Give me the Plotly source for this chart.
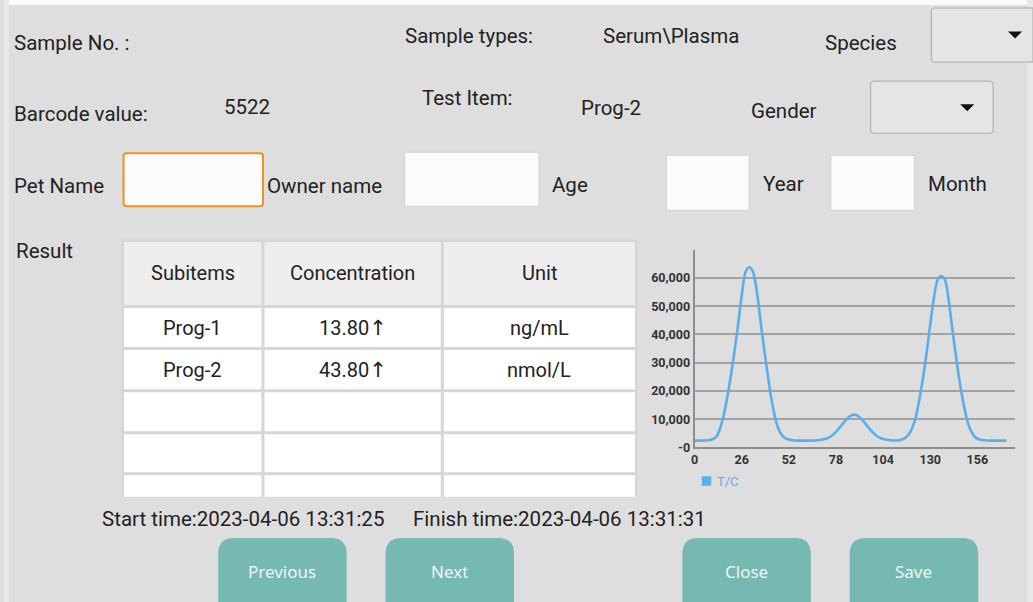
import plotly.graph_objects as go

# ---------------- data ----------------
x_positions = [0, 2, 4, 6, 8, 10, 12, 14, 16, 18, 20, 22, 24, 26, 28, 30, 32, 34, 36, 38,
               40, 42, 44, 46, 48, 50, 52, 54, 56, 58, 60, 62, 64, 66, 68, 70, 72, 74, 76, 78,
               80, 82, 84, 86, 88, 90, 92, 94, 96, 98, 100, 102, 104, 106, 108, 110, 112, 114, 116, 118,
               120, 122, 124, 126, 128, 130, 132, 134, 136, 138, 140, 142, 144, 146, 148, 150, 152, 154, 156, 158,
               160, 162, 164, 166, 168, 170, 172]
tc_values = [2400, 2400, 2400, 2450, 2600, 2900, 3800, 6600, 11300, 17700, 25400, 34100, 43500, 53900, 61900, 63800, 62500, 56700, 46700, 36400,
             27300, 18600, 11700, 7000, 4500, 3300, 2800, 2550, 2450, 2400, 2400, 2400, 2400, 2450, 2520, 2700, 2970, 3500, 4320, 5500,
             6990, 8600, 10130, 11200, 11600, 11200, 10130, 8600, 6990, 5500, 4320, 3500, 2970, 2700, 2520, 2450, 2450, 2700, 3300, 4500,
             6800, 10600, 17100, 24600, 33500, 43500, 52900, 59200, 60600, 59600, 52900, 42800, 33200, 24100, 16700, 10600, 6500, 4200, 3100, 2700,
             2550, 2450, 2400, 2400, 2400, 2400, 2400]
x_tick_vals = [0, 26, 52, 78, 104, 130, 156]
y_tick_vals = [0, 10000, 20000, 30000, 40000, 50000, 60000]
y_tick_text = ["-0", "10,000", "20,000", "30,000", "40,000", "50,000", "60,000"]
series_name = "T/C"

table_header = ["Subitems", "Concentration", "Unit"]
subitems = ["Prog-1", "Prog-2"]
concentrations = ["13.80", "43.80"]
units = ["ng/mL", "nmol/L"]
high_flag = "\u2191"

button_labels = ["Previous", "Next", "Close", "Save"]
start_time = "Start time:2023-04-06 13:31:25"
finish_time = "Finish time:2023-04-06 13:31:31"

# ---------------- helpers ----------------
W, H = 1033, 602          # layout grid (reference pixels)
FIG_H = 610               # rendered figure height
BG = "#dedede"
TXT = "#222222"
FONT = "Roboto"


def X(px):
    return px / W


def Y(py):
    return 1 - py / H


shapes = []
annotations = []


def rect(x0, y0, x1, y1, fill, lc=None, lw=0):
    shapes.append(dict(type="rect", xref="paper", yref="paper", layer="below",
                       x0=X(x0), x1=X(x1), y0=Y(y1), y1=Y(y0), fillcolor=fill,
                       line=dict(color=lc or fill, width=lw)))


def rrect(x0, y0, x1, y1, r, fill, lc=None, lw=0, round_bottom=True, round_right=True):
    def p(a, b):
        return f"{X(a):.6f},{Y(b):.6f}"
    rb = r if round_bottom else 0
    rr = r if round_right else 0
    rbr = min(rb, rr)
    path = f"M {p(x0 + r, y0)} L {p(x1 - rr, y0)} "
    if rr:
        path += f"Q {p(x1, y0)} {p(x1, y0 + rr)} "
    path += f"L {p(x1, y1 - rbr)} "
    if rbr:
        path += f"Q {p(x1, y1)} {p(x1 - rbr, y1)} "
    path += f"L {p(x0 + rb, y1)} "
    if rb:
        path += f"Q {p(x0, y1)} {p(x0, y1 - rb)} "
    path += f"L {p(x0, y0 + r)} Q {p(x0, y0)} {p(x0 + r, y0)} Z"
    shapes.append(dict(type="path", xref="paper", yref="paper", layer="below", path=path,
                       fillcolor=fill, line=dict(color=lc or fill, width=lw)))


def tri(cx, cy, w, h, color):
    path = (f"M {X(cx - w / 2):.6f},{Y(cy - h / 2):.6f} L {X(cx + w / 2):.6f},{Y(cy - h / 2):.6f} "
            f"L {X(cx):.6f},{Y(cy + h / 2):.6f} Z")
    shapes.append(dict(type="path", xref="paper", yref="paper", layer="above", path=path,
                       fillcolor=color, line=dict(color=color, width=0)))


def text(px, py, s, size=20.5, color=TXT, anchor="left", family=FONT, weight=None):
    f = dict(family=family, size=size, color=color)
    if weight:
        f["weight"] = weight
    if anchor == "left":
        px -= 3
    annotations.append(dict(xref="paper", yref="paper", x=X(px), y=Y(py), text=s,
                            showarrow=False, xanchor=anchor, yanchor="middle", font=f))


# ---------------- page frame ----------------
rect(0, 0, W, 5, "#fafafa")
rect(0, 0, 5, H, "#e8e8e8")
rect(1027, 0, W, H, "#e8e8e8")

# ---------------- labels ----------------
text(11, 43, "Sample No. :")
text(404, 36, "Sample types:")
text(602, 36, "Serum\\Plasma")
text(825, 43, "Species")
text(11, 114, "Barcode value:")
text(222, 107, "5522")
text(421, 98, "Test Item:")
text(580, 108, "Prog-2")
text(751, 111, "Gender")
text(11, 186, "Pet Name")
text(265, 186, "Owner name")
text(551, 185, "Age")
text(763, 184, "Year")
text(929, 184, "Month")
text(13, 251, "Result")

# dropdowns
rrect(931, 8, 1033, 62, 3, "#e5e5e5", "#a9a9a9", 1, round_right=False)
tri(1015, 35, 14, 7, "#111111")
rrect(870, 81, 993, 133, 3, "#e5e5e5", "#a9a9a9", 1)
tri(967, 107.5, 14, 7, "#111111")

# input boxes
rrect(120, 153, 260, 206, 3, "#fbfbfb", "#f0921f", 2)
rect(402, 152, 537, 206, "#fbfbfb", "#d2d2d2", 1)
rect(665, 155, 748, 210, "#fbfbfb", "#d2d2d2", 1)
rect(830, 155, 914, 210, "#fbfbfb", "#d2d2d2", 1)

# ---------------- table ----------------
cols = [119, 260, 440, 635]
rows = [240, 306, 348, 390, 432, 473, 496]
rect(118, 239, 636, 496, "#d6d6d6")
for ri in range(len(rows) - 1):
    for ci in range(len(cols) - 1):
        fill = "#eeeeee" if ri == 0 else "#ffffff"
        y_end = rows[ri + 1] - 1.5 if ri < len(rows) - 2 else rows[ri + 1]
        rect(cols[ci] + 1.5, rows[ri] + 1.5, cols[ci + 1] - 1.5, y_end, fill)
col_centers = [(cols[i] + cols[i + 1]) / 2 for i in range(3)]
for ci, h in enumerate(table_header):
    text(col_centers[ci], 273, h, size=20, anchor="center")
for ri in range(len(subitems)):
    cy = (rows[ri + 1] + rows[ri + 2]) / 2
    text(col_centers[0], cy, subitems[ri], size=20, anchor="center")
    conc = concentrations[ri] + '<span style="font-family:DejaVu Sans;font-size:21px">' + high_flag + '</span>'
    text(col_centers[1], cy, conc, size=20, anchor="center")
    text(col_centers[2], cy, units[ri], size=20, anchor="center")

# times
text(99, 518, start_time, size=20.5)
text(412, 518, finish_time, size=20.5)

# buttons
btn_x = [(215, 344), (383, 512), (681, 810), (849, 978)]
for (bx0, bx1), lab in zip(btn_x, button_labels):
    rrect(bx0, 537, bx1, H, 16, "#76b9b0", round_bottom=False)
    text((bx0 + bx1) / 2, 571, lab, size=17, color="#eef8f6", anchor="center", family="Noto Sans")

# legend
LINE_COLOR = "#5aaeea"
rect(700.5, 475.5, 710, 485, LINE_COLOR)
text(717, 481, series_name, size=13, color=LINE_COLOR)

# ---------------- chart ----------------
fig = go.Figure()
fig.add_trace(go.Scatter(x=x_positions, y=tc_values, mode="lines", name=series_name,
                         line=dict(color=LINE_COLOR, width=2.6, shape="spline", smoothing=0.8),
                         hoverinfo="skip"))

x_px0, x_px1 = 693.3, 1015
y_px0, y_px1 = 446.7, 249.3
fig.update_layout(
    width=W, height=FIG_H, margin=dict(l=0, r=0, t=0, b=0),
    paper_bgcolor=BG, plot_bgcolor="rgba(0,0,0,0)",
    showlegend=False,
    shapes=shapes, annotations=annotations,
    xaxis=dict(domain=[X(x_px0), X(x_px1)], range=[0, 176.8], tickvals=x_tick_vals,
               showgrid=False, zeroline=False, showline=True, linecolor="#8e8e8e", linewidth=2,
               ticks="", tickfont=dict(family=FONT, size=12.5, color="#333333", weight="bold"),
               fixedrange=True),
    yaxis=dict(domain=[Y(y_px0), Y(y_px1)], range=[0, 70000], tickvals=y_tick_vals, ticktext=y_tick_text,
               showgrid=True, gridcolor="#a2a2a2", gridwidth=1.5, zeroline=False, showline=True,
               linecolor="#8e8e8e", linewidth=2, ticks="",
               tickfont=dict(family=FONT, size=12.5, color="#333333", weight="bold"),
               fixedrange=True),
)

fig.write_html(
    "out.html",
    config={"displayModeBar": False},
    post_script="document.body.style.margin='0';document.body.style.overflow='hidden';"
                "document.documentElement.style.overflow='hidden';",
)
